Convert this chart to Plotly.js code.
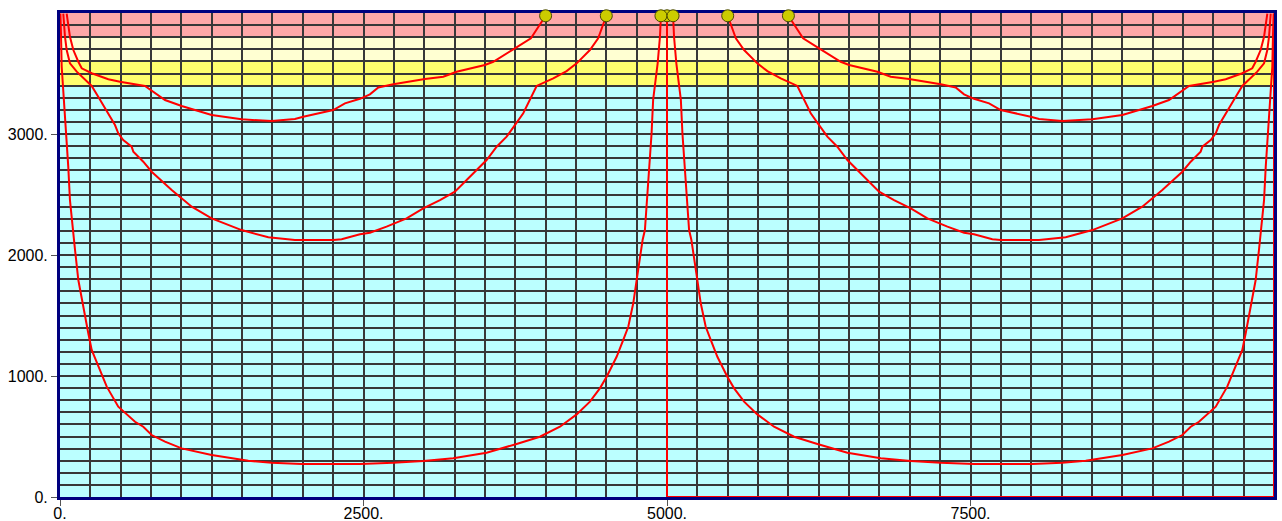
<!DOCTYPE html>
<html>
<head>
<meta charset="utf-8">
<script src="https://cdn.plot.ly/plotly-3.0.1.min.js"></script>
<style>html,body{margin:0;padding:0;background:#fff;}#chart{width:1282px;height:521px;}</style>
</head>
<body>
<div id="chart"></div>
<script>
// Tick labels
const xTickVals = [0, 2500, 5000, 7500];
const xTickText = ['0.', '2500.', '5000.', '7500.'];
const yTickVals = [0, 1000, 2000, 3000];
const yTickText = ['0.', '1000.', '2000.', '3000.'];

// Background zones (y ranges)
const zoneBottoms = [3400, 3600, 3800];
const zoneTops = [3600, 3800, 4000];
const zoneColors = ['#FFFF6E', '#FFFFD2', '#FFA8A8'];

// Source points along the top
const srcX = [5000, 4000, 4500, 4950, 5050, 5500, 6000];
const srcY = [3977, 3977, 3977, 3977, 3977, 3977, 3977];

// Flow paths
const path4000X = [4000,3879,3747,3569,3500,3267,3157,3006,2745,2622,2553,2471,2347,2251,2004,1935,1744,1496,1249,1002,865,741,700,494,398,261,179,151,110,82,60,55];
const path4000Y = [3977,3791,3708,3597,3570,3515,3474,3455,3411,3385,3328,3291,3253,3198,3143,3124,3107,3121,3157,3231,3281,3363,3397,3432,3452,3502,3543,3597,3694,3804,3947,3995];

const path6000X = [6000,6121,6253,6431,6500,6733,6843,6994,7255,7378,7447,7529,7653,7749,7996,8065,8256,8504,8751,8998,9135,9259,9300,9506,9602,9739,9821,9849,9890,9918,9940,9945];
const path6000Y = [3977,3791,3708,3597,3570,3515,3474,3455,3411,3385,3328,3291,3253,3198,3143,3124,3107,3121,3157,3231,3281,3363,3397,3432,3452,3502,3543,3597,3694,3804,3947,3995];

const path4500X = [4500,4433,4365,4256,4173,4063,3926,3885,3816,3747,3679,3597,3514,3432,3350,3253,3130,2992,2855,2690,2553,2471,2320,2251,1935,1716,1496,1249,1085,988,920,755,686,604,590,521,480,453,398,315,261,138,82,55,41,27,27];
const path4500Y = [3977,3791,3694,3584,3520,3460,3397,3308,3171,3074,2978,2895,2785,2702,2620,2523,2454,2386,2303,2234,2184,2171,2130,2124,2124,2146,2206,2303,2399,2482,2537,2688,2771,2854,2895,2950,3006,3074,3171,3308,3397,3515,3584,3694,3804,3942,3995];

const path5500X = [5500,5567,5635,5744,5827,5937,6074,6115,6184,6253,6321,6403,6486,6568,6650,6747,6870,7008,7145,7310,7447,7529,7680,7749,8065,8284,8504,8751,8915,9012,9080,9245,9314,9396,9410,9479,9520,9547,9602,9685,9739,9862,9918,9945,9959,9973,9973];
const path5500Y = [3977,3791,3694,3584,3520,3460,3397,3308,3171,3074,2978,2895,2785,2702,2620,2523,2454,2386,2303,2234,2184,2171,2130,2124,2124,2146,2206,2303,2399,2482,2537,2688,2771,2854,2895,2950,3006,3074,3171,3308,3397,3515,3584,3694,3804,3942,3995];

const path4950X = [4950,4942,4923,4900,4886,4873,4859,4845,4832,4818,4799,4777,4750,4722,4681,4639,4585,4503,4447,4365,4256,4118,3953,3761,3514,3239,2992,2745,2471,1991,1744,1551,1249,1002,865,755,686,618,480,385,315,261,233,206,179,151,124,110,82,68,49,27,14,8,3];
const path4950Y = [3977,3804,3584,3397,3285,3006,2812,2564,2399,2206,2124,1959,1793,1601,1407,1297,1159,994,898,788,683,581,498,438,366,320,298,283,273,273,283,300,347,402,457,512,581,622,746,912,1091,1215,1353,1490,1628,1793,2041,2179,2454,2730,3006,3281,3556,3832,3995];

const path5050X = [5050,5058,5077,5100,5114,5127,5141,5155,5168,5182,5201,5223,5250,5278,5319,5361,5415,5497,5553,5635,5744,5882,6047,6239,6486,6761,7008,7255,7529,8009,8256,8449,8751,8998,9135,9245,9314,9382,9520,9615,9685,9739,9767,9794,9821,9849,9876,9890,9918,9932,9951,9973,9986,9992,9997];
const path5050Y = [3977,3804,3584,3397,3285,3006,2812,2564,2399,2206,2124,1959,1793,1601,1407,1297,1159,994,898,788,683,581,498,438,366,320,298,283,273,273,283,300,347,402,457,512,581,622,746,912,1091,1215,1353,1490,1628,1793,2041,2179,2454,2730,3006,3281,3556,3832,3995];

const path5000X = [5000, 5000, 10000, 10000];
const path5000Y = [3977, 0, 0, 3995];

const paths = [
  [path4000X, path4000Y], [path4500X, path4500Y], [path4950X, path4950Y],
  [path5000X, path5000Y],
  [path5050X, path5050Y], [path5500X, path5500Y], [path6000X, path6000Y]
];

const traces = paths.map(p => ({
  type: 'scatter', mode: 'lines', x: p[0], y: p[1],
  line: {color: '#FF0000', width: 2}, hoverinfo: 'skip', showlegend: false
}));
traces.push({
  type: 'scatter', mode: 'markers', x: srcX, y: srcY, cliponaxis: false,
  marker: {size: 12, color: '#CCCC00', line: {color: '#4A4A00', width: 1}},
  hoverinfo: 'skip', showlegend: false
});

const shapes = zoneBottoms.map((b, i) => ({
  type: 'rect', xref: 'paper', yref: 'y', x0: 0, x1: 1, y0: b, y1: zoneTops[i],
  fillcolor: zoneColors[i], line: {width: 0}, layer: 'below'
}));

const font = {family: 'Arial, "Liberation Sans", sans-serif', size: 16, color: '#000'};
const gridC = '#383838';
const gridW = 2;

const layout = {
  width: 1282, height: 521,
  margin: {l: 60, r: 8, t: 13, b: 24, pad: 0},
  paper_bgcolor: '#FFFFFF',
  plot_bgcolor: '#BBFFFF',
  font: font,
  showlegend: false,
  shapes: shapes,
  xaxis: {
    range: [0, 10000], tickmode: 'array', tickvals: xTickVals, ticktext: xTickText,
    showgrid: true, gridcolor: gridC, gridwidth: gridW, zeroline: false,
    showline: true, linecolor: '#00007F', linewidth: 3, mirror: true,
    ticks: 'outside', ticklen: 6, tickcolor: '#555', tickwidth: 1,
    ticklabelstandoff: -6,
    tickfont: font, layer: 'below traces', fixedrange: true,
    minor: {tickmode: 'linear', tick0: 0, dtick: 250, showgrid: true, gridcolor: gridC, gridwidth: gridW, ticks: ''}
  },
  yaxis: {
    range: [0, 4000], tickmode: 'array', tickvals: yTickVals, ticktext: yTickText,
    showgrid: true, gridcolor: gridC, gridwidth: gridW, zeroline: false,
    showline: true, linecolor: '#00007F', linewidth: 3, mirror: true,
    ticks: 'outside', ticklen: 6, tickcolor: '#555', tickwidth: 1,
    tickfont: font, layer: 'below traces', fixedrange: true,
    minor: {tickmode: 'linear', tick0: 0, dtick: 100, showgrid: true, gridcolor: gridC, gridwidth: gridW, ticks: ''}
  }
};

Plotly.newPlot('chart', traces, layout, {staticPlot: true, displayModeBar: false});
</script>
</body>
</html>
